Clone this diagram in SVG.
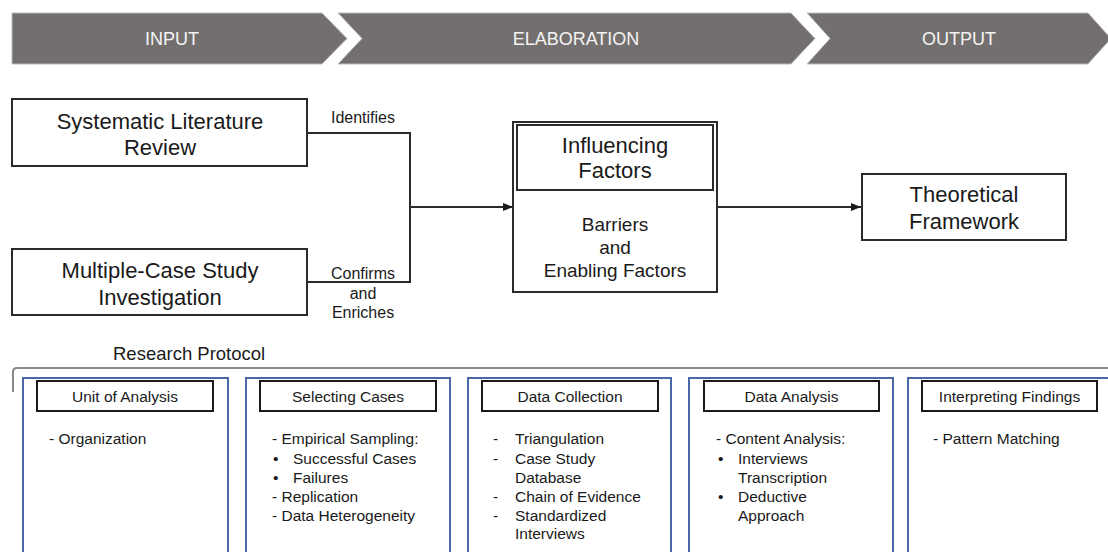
<svg xmlns="http://www.w3.org/2000/svg" width="1108" height="552" viewBox="0 0 1108 552">
  <defs>
    <style>
      text { font-family: "Liberation Sans", Arial, sans-serif; fill: #1a1a1a; }
      .chev { fill: #736f6e; stroke: #bdbdbd; stroke-width: 1; }
      .chevtxt { fill: #f4f4f4; font-size: 18px; text-anchor: middle; }
      .box { fill: #ffffff; stroke: #2b2b2b; stroke-width: 2; }
      .big { font-size: 22px; text-anchor: middle; }
      .mid { font-size: 19px; text-anchor: middle; }
      .lbl { font-size: 16px; text-anchor: middle; }
      .conn { fill: none; stroke: #2b2b2b; stroke-width: 2; }
      .panel { fill: #ffffff; stroke: #4a68a8; stroke-width: 2; }
      .head { fill: #ffffff; stroke: #1a1a1a; stroke-width: 2; }
      .ht { font-size: 15.5px; text-anchor: middle; }
      .it { font-size: 15.5px; }
      .bracket { fill: none; stroke: #8a8a8a; stroke-width: 2; }
    </style>
    <marker id="arr" markerWidth="10" markerHeight="8" refX="10" refY="4" orient="auto" markerUnits="userSpaceOnUse">
      <path d="M0,0 L10,4 L0,8 z" fill="#1a1a1a"/>
    </marker>
  </defs>
  <rect width="1108" height="552" fill="#ffffff"/>

  <g id="phase-input">
    <polygon class="chev" points="12,13 322,13 347,38.5 322,64 12,64"/>
    <text class="chevtxt" x="172" y="45">INPUT</text>
  </g>
  <g id="phase-elaboration">
    <polygon class="chev" points="338,13 791,13 815,38.5 791,64 338,64 362,38.5"/>
    <text class="chevtxt" x="576" y="45">ELABORATION</text>
  </g>
  <g id="phase-output">
    <polygon class="chev" points="807,13 1088,13 1111,38.5 1088,64 807,64 830,38.5"/>
    <text class="chevtxt" x="959" y="45">OUTPUT</text>
  </g>

  <g id="connectors">
    <polyline class="conn" points="307,133 410,133 410,282 307,282"/>
    <line class="conn" x1="410" y1="207" x2="513" y2="207" marker-end="url(#arr)"/>
    <line class="conn" x1="717" y1="207" x2="861" y2="207" marker-end="url(#arr)"/>
    <text class="lbl" x="363" y="123">Identifies</text>
    <text class="lbl" x="363" y="279">Confirms</text>
    <text class="lbl" x="363" y="299">and</text>
    <text class="lbl" x="363" y="318">Enriches</text>
  </g>

  <g id="slr">
    <rect class="box" x="12" y="99" width="295" height="67"/>
    <text class="big" x="160" y="129">Systematic Literature</text>
    <text class="big" x="160" y="155">Review</text>
  </g>
  <g id="mcs">
    <rect class="box" x="12" y="249" width="295" height="66"/>
    <text class="big" x="160" y="278">Multiple-Case Study</text>
    <text class="big" x="160" y="305">Investigation</text>
  </g>
  <g id="influencing">
    <rect class="box" x="513" y="122" width="204" height="170"/>
    <rect class="box" x="517" y="125" width="196" height="65"/>
    <text class="big" x="615" y="153">Influencing</text>
    <text class="big" x="615" y="178">Factors</text>
    <text class="mid" x="615" y="231">Barriers</text>
    <text class="mid" x="615" y="254">and</text>
    <text class="mid" x="615" y="277">Enabling Factors</text>
  </g>
  <g id="theoretical">
    <rect class="box" x="862" y="174" width="204" height="66"/>
    <text class="big" x="964" y="202">Theoretical</text>
    <text class="big" x="964" y="229">Framework</text>
  </g>

  <g id="protocol">
    <text x="113" y="359.5" style="font-size:18.5px">Research Protocol</text>
    <path class="bracket" d="M13,392 L13,372 Q13,368 17,368 L1110,368"/>
  </g>

  <g id="unit-of-analysis">
    <rect class="panel" x="23" y="378" width="205" height="190"/>
    <rect class="head" x="37" y="381" width="176" height="30"/>
    <text class="ht" x="125" y="401.5">Unit of Analysis</text>
    <text class="it" x="49" y="443.5">- Organization</text>
  </g>
  <g id="selecting-cases">
    <rect class="panel" x="246" y="378" width="204" height="190"/>
    <rect class="head" x="260" y="381" width="176" height="30"/>
    <text class="ht" x="348" y="401.5">Selecting Cases</text>
    <text class="it" x="272" y="443.5">- Empirical Sampling:</text>
    <text class="it" x="273" y="463.5">•</text>
    <text class="it" x="293" y="463.5">Successful Cases</text>
    <text class="it" x="273" y="482.5">•</text>
    <text class="it" x="293" y="482.5">Failures</text>
    <text class="it" x="272" y="501.5">- Replication</text>
    <text class="it" x="272" y="520.5">- Data Heterogeneity</text>
  </g>
  <g id="data-collection">
    <rect class="panel" x="468" y="378" width="203" height="190"/>
    <rect class="head" x="482" y="381" width="176" height="30"/>
    <text class="ht" x="570" y="401.5">Data Collection</text>
    <text class="it" x="493" y="443.5">-</text>
    <text class="it" x="515" y="443.5">Triangulation</text>
    <text class="it" x="493" y="463.5">-</text>
    <text class="it" x="515" y="463.5">Case Study</text>
    <text class="it" x="515" y="482.5">Database</text>
    <text class="it" x="493" y="501.5">-</text>
    <text class="it" x="515" y="501.5">Chain of Evidence</text>
    <text class="it" x="493" y="520.5">-</text>
    <text class="it" x="515" y="520.5">Standardized</text>
    <text class="it" x="515" y="538.5">Interviews</text>
  </g>
  <g id="data-analysis">
    <rect class="panel" x="689" y="378" width="204" height="190"/>
    <rect class="head" x="704" y="381" width="175" height="30"/>
    <text class="ht" x="791.5" y="401.5">Data Analysis</text>
    <text class="it" x="716" y="443.5">- Content Analysis:</text>
    <text class="it" x="718" y="463.5">•</text>
    <text class="it" x="738" y="463.5">Interviews</text>
    <text class="it" x="738" y="482.5">Transcription</text>
    <text class="it" x="718" y="501.5">•</text>
    <text class="it" x="738" y="501.5">Deductive</text>
    <text class="it" x="738" y="520.5">Approach</text>
  </g>
  <g id="interpreting-findings">
    <rect class="panel" x="908" y="378" width="220" height="190"/>
    <rect class="head" x="922" y="381" width="175" height="30"/>
    <text class="ht" x="1009.5" y="401.5">Interpreting Findings</text>
    <text class="it" x="933" y="443.5">- Pattern Matching</text>
  </g>
</svg>
